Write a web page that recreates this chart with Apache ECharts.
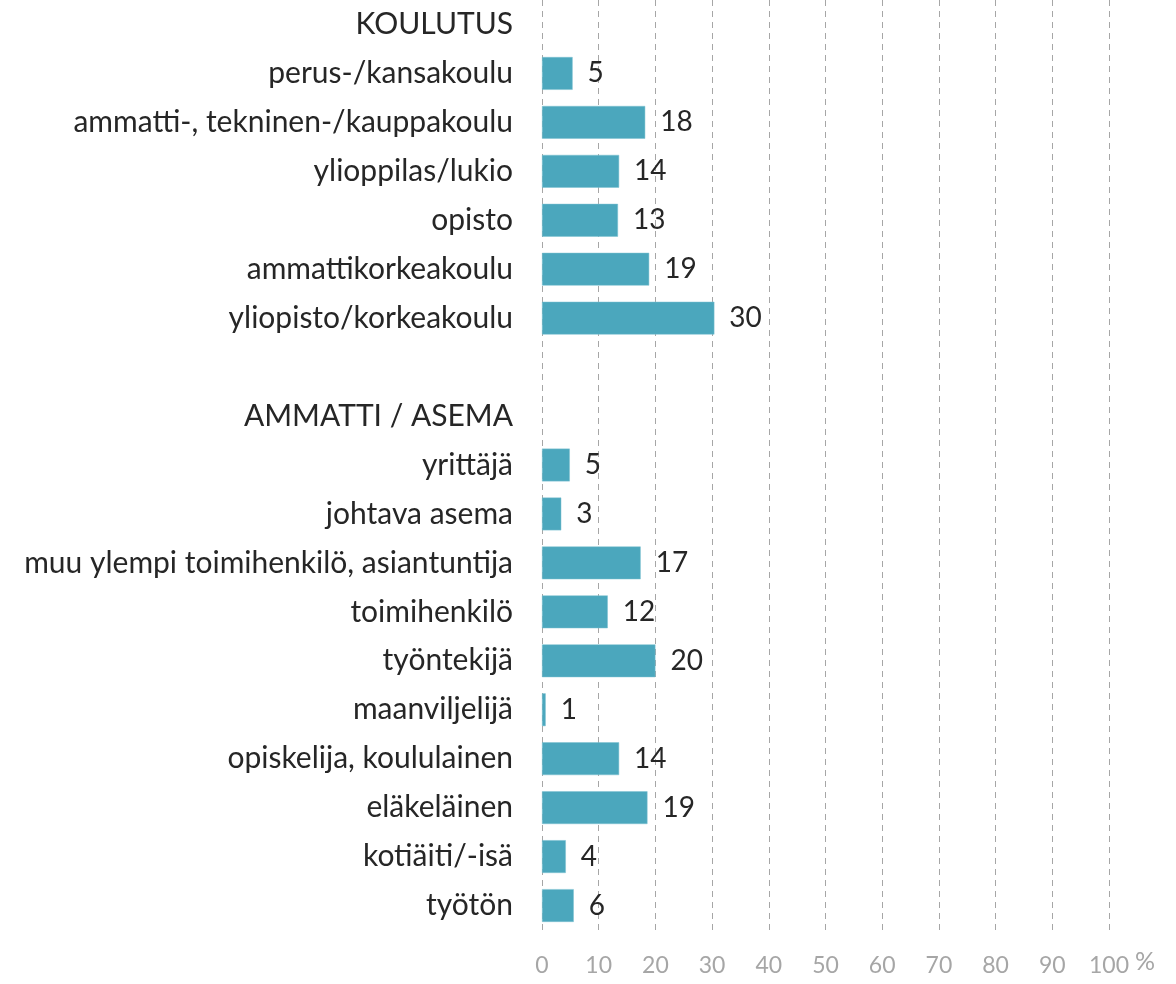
<!DOCTYPE html>
<html>
<head>
<meta charset="utf-8">
<script src="https://cdn.jsdelivr.net/npm/echarts@6/dist/echarts.min.js"></script>
<style>
  html, body { margin: 0; padding: 0; background: #fff; }
  #chart { width: 1176px; height: 984px; }
</style>
</head>
<body>
<div id="chart"></div>
<script>
// rivit ylhäältä alas; otsikkoriveillä ei ole arvoa
const categories = [
  'KOULUTUS',
  'perus-/kansakoulu',
  'ammatti-, tekninen-/kauppakoulu',
  'ylioppilas/lukio',
  'opisto',
  'ammattikorkeakoulu',
  'yliopisto/korkeakoulu',
  '',
  'AMMATTI / ASEMA',
  'yrittäjä',
  'johtava asema',
  'muu ylempi toimihenkilö, asiantuntija',
  'toimihenkilö',
  'työntekijä',
  'maanviljelijä',
  'opiskelija, koululainen',
  'eläkeläinen',
  'kotiäiti/-isä',
  'työtön'
]
const values = [
  null, 5.4, 18.2, 13.6, 13.4, 18.9, 30.4,
  null,
  null, 4.9, 3.4, 17.4, 11.6, 20.0, 0.65, 13.6, 18.6, 4.2, 5.6
]
const xTicks = [0, 10, 20, 30, 40, 50, 60, 70, 80, 90, 100]

const font = 'Lato, "Open Sans", sans-serif'
const chart = echarts.init(document.getElementById('chart'))
chart.setOption({
  animation: false,
  textStyle: { fontFamily: font },
  grid: { left: 542, right: 67, top: -4, bottom: 54, containLabel: false },
  xAxis: {
    type: 'value',
    min: xTicks[0],
    max: xTicks[xTicks.length - 1],
    interval: 10,
    axisLine: { show: false },
    axisTick: { show: false },
    axisLabel: { color: '#a6a6a6', fontSize: 23, fontFamily: font, margin: 24 },
    splitLine: { show: true, lineStyle: { color: '#a6a6a6', type: [6, 5], width: 1 } },
    name: '%',
    nameLocation: 'end',
    nameGap: 15,
    nameTextStyle: { color: '#a6a6a6', fontSize: 25, fontFamily: font, verticalAlign: 'top', padding: [19, 0, 0, 0] }
  },
  yAxis: {
    type: 'category',
    inverse: true,
    data: categories,
    axisLine: { show: false },
    axisTick: { show: false },
    axisLabel: { color: '#262626', fontSize: 30, fontFamily: font, margin: 29, interval: 0 }
  },
  series: [{
    type: 'bar',
    data: values,
    barCategoryGap: '33%',
    itemStyle: { color: '#4ba7bd', borderColor: '#7cc0d1', borderWidth: 0.5 },
    label: {
      show: true,
      position: 'right',
      distance: 15,
      color: '#262626',
      fontSize: 28,
      fontFamily: font,
      formatter: p => p.value == null ? '' : Math.round(p.value)
    }
  }]
})
</script>
</body>
</html>
